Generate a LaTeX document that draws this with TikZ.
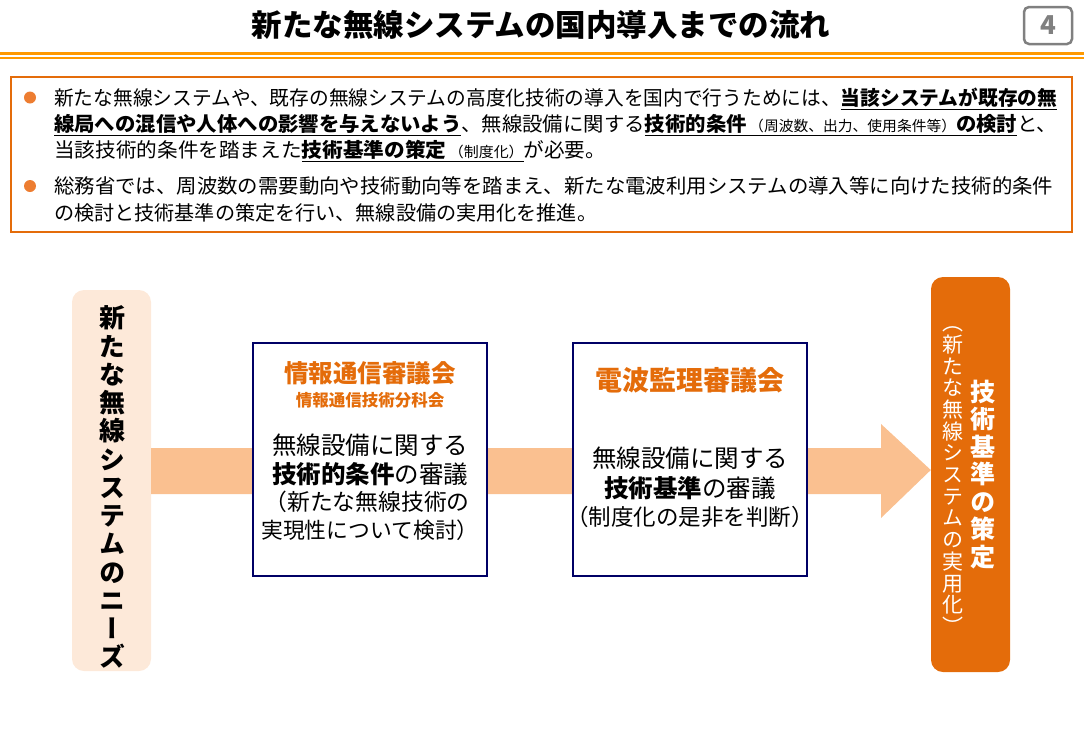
\documentclass[tikz,border=0pt]{standalone}
\usepackage{fontspec}
\usepackage{graphicx}
\setmainfont{Noto Sans CJK JP}
\newfontfamily\jpv[RawFeature=+vert]{Noto Sans CJK JP}
\definecolor{lineorange}{HTML}{FF9900}
\definecolor{boxorange}{HTML}{E46C0A}
\definecolor{bulletorange}{HTML}{ED7D31}
\definecolor{peach}{HTML}{FDE9D9}
\definecolor{bandcol}{HTML}{FAC090}
\definecolor{navy}{HTML}{000066}
\definecolor{pagegray}{HTML}{808080}
\newcommand{\myul}[1]{\setbox0\hbox{#1}\rlap{\rule[-4.5pt]{\wd0}{1.3pt}}\box0}
\newcommand{\fitw}[2]{\resizebox{#1}{\height}{#2}}
\newcommand{\smalltxt}[1]{{\fontsize{14.5}{16}\selectfont\,#1}}
\tikzset{
  bl/.style={anchor=base west, inner sep=0pt, font=\fontsize{20}{24}\selectfont},
  vstack/.style={align=center, inner sep=0pt},
  council/.style={draw=navy, line width=1.2pt, fill=white, minimum width=234pt, minimum height=233pt, inner sep=0pt},
  ctitle/.style={text=boxorange, inner sep=0pt},
  body/.style={font=\fontsize{24.5}{28}\selectfont, inner sep=0pt},
  bodyp/.style={font=\fontsize{22.8}{27}\selectfont, inner sep=0pt},
  bullet/.style={circle, fill=bulletorange, minimum size=12pt, inner sep=0pt},
}
\begin{document}
\begin{tikzpicture}[x=1pt,y=-1pt]
\useasboundingbox (0,0) rectangle (1084,750);
% title
\node[font=\bfseries\fontsize{30.5}{34}\selectfont, inner sep=0pt] (title) at (541,25) {新たな無線システムの国内導入までの流れ};
\node[draw=pagegray, line width=2.5pt, rounded corners=5pt, minimum width=48pt, minimum height=37pt, text=pagegray, font=\bfseries\fontsize{26}{28}\selectfont, inner sep=0pt] (pg) at (1048,25.5) {4};
\draw[lineorange, line width=3.3pt] (0,53.7) -- (1084,53.7);
\draw[lineorange, line width=1.3pt] (0,57.9) -- (1084,57.9);
% intro box
\node[draw=boxorange, line width=2.5pt, minimum width=1061pt, minimum height=155pt, inner sep=0pt] (intro) at (541.5,154.5) {};
\node[bullet] (bu1) at (30,97.5) {};
\node[bullet] (bu2) at (30,186) {};
\node[bl] (l1) at (54,105.6) {\fitw{1003pt}{新たな無線システムや、既存の無線システムの高度化技術の導入を国内で行うためには、\myul{\textbf{当該システムが既存の無}}}};
\node[bl] (l2) at (54,131.6) {\fitw{1003pt}{\myul{\textbf{線局への混信や人体への影響を与えないよう}}、無線設備に関する\myul{\textbf{技術的条件}\smalltxt{（周波数、出力、使用条件等）}\textbf{の検討}}と、}};
\node[bl] (l3) at (54,157.6) {\fitw{552pt}{当該技術的条件を踏まえた\myul{\textbf{技術基準の策定}\smalltxt{（制度化）}}が必要。}};
\node[bl] (l4) at (54,193.6) {\fitw{999pt}{総務省では、周波数の需要動向や技術動向等を踏まえ、新たな電波利用システムの導入等に向けた技術的条件}};
\node[bl] (l5) at (54,220.6) {\fitw{543pt}{の検討と技術基準の策定を行い、無線設備の実用化を推進。}};
% side boxes
\node[fill=peach, rounded corners=12pt, minimum width=79pt, minimum height=381pt, inner sep=0pt] (needs) at (111.5,480.5) {};
\node[fill=boxorange, rounded corners=12pt, minimum width=79pt, minimum height=395pt, inner sep=0pt] (std) at (970.5,474.5) {};
% band arrow
\coordinate (bt) at (0,448);
\coordinate (bb) at (0,494);
\coordinate (tip) at (0,470);
\fill[bandcol] (needs.east |- bt) -- (881,448) -- (881,424) -- (std.west |- tip) -- (881,518) -- (881,494) -- (needs.east |- bb) -- cycle;
% vertical texts
\node[vstack, font=\jpv\bfseries\fontsize{26}{28.25}\selectfont] (needstxt) at (112,487.5) {新\vphantom{国}\\た\\な\\無\\線\\シ\\ス\\テ\\ム\\の\\ニ\\ー\\ズ\vphantom{国}};
\node[vstack, text=white, font=\jpv\bfseries\fontsize{25}{27.5}\selectfont] (stdtxt) at (983,474.5) {技\vphantom{国}\\術\\基\\準\\の\\策\\定\vphantom{国}};
\node[vstack, text=white, font=\jpv\fontsize{21}{21.7}\selectfont] (stdsub) at (953,475) {（\vphantom{国}\\新\\た\\な\\無\\線\\シ\\ス\\テ\\ム\\の\\実\\用\\化\\）\vphantom{国}};
% council boxes
\node[council] (c1) at (370,459.5) {};
\node[council] (c2) at (690,459.5) {};
\node[ctitle, font=\bfseries\fontsize{24.5}{28}\selectfont] (c1t) at (370,373) {情報通信審議会};
\node[ctitle, font=\bfseries\fontsize{16.5}{19}\selectfont] (c1s) at (370,400) {情報通信技術分科会};
\node[body] (c1a) at (370,445) {無線設備に関する};
\node[body] (c1b) at (370,474) {\textbf{技術的条件}の審議};
\node[bodyp] (c1c) at (367,502) {（新たな無線技術の};
\node[bodyp, font=\fontsize{21.8}{27}\selectfont] (c1d) at (370,530) {実現性について検討）};
\node[ctitle, font=\bfseries\fontsize{27}{30}\selectfont] (c2t) at (690,380) {電波監理審議会};
\node[body] (c2a) at (690,458) {無線設備に関する};
\node[body] (c2b) at (690,488) {\textbf{技術基準}の審議};
\node[bodyp, font=\fontsize{22.5}{27}\selectfont] (c2c) at (690,517) {（制度化の是非を判断）};
\end{tikzpicture}
\end{document}
